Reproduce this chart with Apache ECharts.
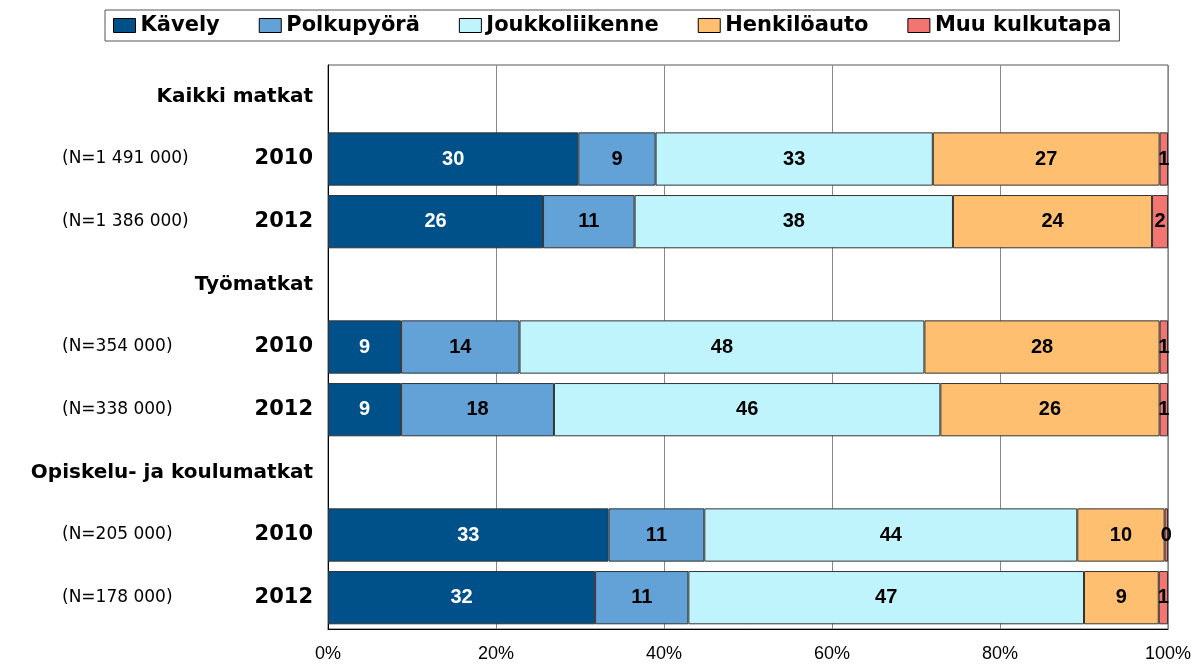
<!DOCTYPE html>
<html>
<head>
<meta charset="utf-8">
<script src="https://cdn.jsdelivr.net/npm/echarts@6/dist/echarts.min.js"></script>
<style>
  html, body { margin: 0; padding: 0; background: #fff; }
  #chart { width: 1201px; height: 664px; }
</style>
</head>
<body>
<div id="chart"></div>
<script>
/** Kulkutapajakauma 2010 / 2012 */

// rivit ylhäältä alas (otsikkorivillä ei arvoja)
const ROW_KEYS = ["h1", "a10", "a12", "h2", "t10", "t12", "h3", "o10", "o12"]
const ROW_TITLES = ["Kaikki matkat", "2010", "2012", "Työmatkat", "2010", "2012", "Opiskelu- ja koulumatkat", "2010", "2012"]
const ROW_N = ["", "(N=1 491 000)", "(N=1 386 000)", "", "(N=354 000)", "(N=338 000)", "", "(N=205 000)", "(N=178 000)"]

const SERIES_NAMES = ["Kävely", "Polkupyörä", "Joukkoliikenne", "Henkilöauto", "Muu kulkutapa"]
const SERIES_COLORS = ["#00508a", "#62a2d6", "#bff4fd", "#ffbf70", "#f27571"]

const KAVELY       = [null, 29.8, 25.6, null, 8.7, 8.7, null, 33.4, 31.8]
const POLKUPYORA   = [null, 9.2, 10.9, null, 14.1, 18.2, null, 11.4, 11.1]
const JOUKKO       = [null, 33.0, 37.9, null, 48.2, 46.0, null, 44.4, 47.1]
const HENKILOAUTO  = [null, 27.0, 23.7, null, 28.0, 26.1, null, 10.4, 8.9]
const MUU          = [null, 1.0, 1.9, null, 1.0, 1.0, null, 0.4, 1.1]

const X_TICKS = [0, 20, 40, 60, 80, 100]

function getEchart(el) {
    return echarts.init(document.getElementById(el), null, { renderer: "canvas" })
}

function makeSeries(name, idx, data) {
    return {
        name: name,
        type: "bar",
        stack: "all",
        data: data,
        barCategoryGap: "15%",
        itemStyle: {
            color: SERIES_COLORS[idx],
            borderColor: "#333",
            borderWidth: 1
        },
        label: {
            show: true,
            position: "inside",
            color: idx === 0 ? "#fff" : "#000",
            fontFamily: "Liberation Sans, Arial, sans-serif",
            fontWeight: "bold",
            fontSize: 20,
            formatter: p => (p.value == null ? "" : Math.round(p.value))
        },
        emphasis: { disabled: true },
        animation: false
    }
}

let chart = getEchart("chart")

let option = {
    backgroundColor: "#fff",
    animation: false,
    legend: {
        left: 105,
        top: 10,
        padding: [5, 8],
        itemGap: 39,
        itemWidth: 22,
        itemHeight: 14,
        icon: "rect",
        borderColor: "#555",
        borderWidth: 1,
        itemStyle: { borderColor: "#000", borderWidth: 1 },
        textStyle: {
            fontFamily: "DejaVu Sans",
            fontWeight: "bold",
            fontSize: 21,
            color: "#000"
        },
        data: SERIES_NAMES
    },
    grid: {
        left: 328,
        right: 33,
        top: 65,
        bottom: 35,
        show: true,
        borderColor: "#555",
        borderWidth: 1
    },
    xAxis: {
        type: "value",
        min: X_TICKS[0],
        max: X_TICKS[X_TICKS.length - 1],
        interval: 20,
        axisLine: { show: true, lineStyle: { color: "#000", width: 1 } },
        axisTick: { show: false },
        splitLine: { show: true, lineStyle: { color: "#888", width: 1 } },
        axisLabel: {
            margin: 16,
            color: "#000",
            fontFamily: "Liberation Sans, Arial, sans-serif",
            fontSize: 18,
            formatter: "{value}%"
        }
    },
    yAxis: {
        type: "category",
        inverse: true,
        data: ROW_KEYS,
        axisLine: { show: true, lineStyle: { color: "#000", width: 1 } },
        axisTick: { show: false },
        axisLabel: {
            margin: 15,
            align: "right",
            formatter: function (value, index) {
                if (ROW_N[index] === "") {
                    return "{h|" + ROW_TITLES[index] + "}"
                }
                return "{n|" + ROW_N[index] + "}{y|" + ROW_TITLES[index] + "}"
            },
            rich: {
                h: {
                    fontFamily: "DejaVu Sans",
                    fontWeight: "bold",
                    fontSize: 20,
                    color: "#000"
                },
                n: {
                    fontFamily: "DejaVu Sans",
                    fontSize: 17,
                    color: "#000",
                    width: 186,
                    align: "left"
                },
                y: {
                    fontFamily: "DejaVu Sans",
                    fontWeight: "bold",
                    fontSize: 21,
                    color: "#000",
                    width: 65,
                    align: "right"
                }
            }
        }
    },
    series: [
        makeSeries(SERIES_NAMES[0], 0, KAVELY),
        makeSeries(SERIES_NAMES[1], 1, POLKUPYORA),
        makeSeries(SERIES_NAMES[2], 2, JOUKKO),
        makeSeries(SERIES_NAMES[3], 3, HENKILOAUTO),
        makeSeries(SERIES_NAMES[4], 4, MUU)
    ]
}

chart.setOption(option)
</script>
</body>
</html>
